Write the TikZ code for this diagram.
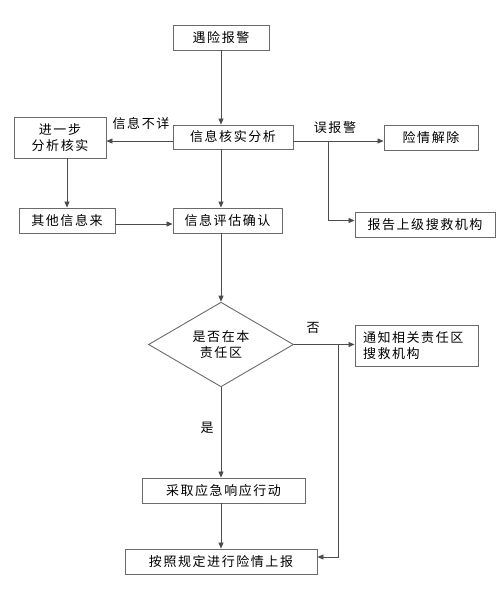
\documentclass[tikz,border=0pt]{standalone}
\usepackage{fontspec}
\newfontfamily\cjk{Noto Sans CJK SC}[LetterSpace=12]
\usetikzlibrary{arrows.meta,shapes.geometric}
\definecolor{boxBd}{HTML}{6A6A6A}
\definecolor{lineCol}{HTML}{4C4C4C}
\newcommand{\zh}{\cjk\fontsize{13}{16}\selectfont}
\tikzset{
  stage/.style={
    rectangle, draw=boxBd, line width=0.9pt,
    minimum height=25pt, inner sep=0pt,
    align=center, font=\zh
  },
  decide/.style={
    diamond, draw=boxBd, line width=0.9pt,
    minimum width=145pt, minimum height=83pt, inner sep=0pt,
    align=center, font=\zh
  },
  flow/.style={-{Triangle[length=6pt,width=5pt]}, line width=0.8pt, draw=lineCol},
  lbl/.style={font=\zh, inner sep=0pt}
}

\begin{document}
\begin{tikzpicture}[x=1pt,y=-1pt]
  \useasboundingbox (0,0) rectangle (500,608);

  % boxes -- upper part
  \node[stage, minimum width=96pt]  (alarm)   at (221,37.5)  {遇险报警};
  \node[stage, minimum width=120pt, minimum height=24pt] (verify) at (233,137) {信息核实分析};
  \node[stage, minimum width=92pt, minimum height=41pt]  (further) at (60,137.5) {进一步\\分析核实};
  \node[stage, minimum width=94pt]  (clear)   at (431,137.5) {险情解除};
  \node[stage, minimum width=96pt]  (other)   at (67,220.5)  {其他信息来};
  \node[stage, minimum width=109pt] (assess)  at (227.5,220.5) {信息评估确认};
  \node[stage, minimum width=140pt] (report)  at (425,224.5) {报告上级搜救机构};

  % decision and lower part
  \node[decide] (zone) at (221,344.5) {是否在本\\责任区};
  \node[stage, minimum height=41pt, text width=107pt, inner xsep=8pt, align=left]
    (notify) at (416.5,345.5) {通知相关责任区\\搜救机构};
  \node[stage, minimum width=163pt] (act)   at (223.5,490.5) {采取应急响应行动};
  \node[stage, minimum width=192pt] (final) at (221,561.5) {按照规定进行险情上报};

  % branch labels
  \node[lbl] (lblUnclear) at (141,124) {信息不详};
  \node[lbl] (lblFalse)   at (335,128) {误报警};
  \node[lbl] (lblNo)      at (313,328) {否};
  \node[lbl] (lblYes)     at (207,428) {是};

  % split points
  \coordinate (split)  at (328,141);
  \coordinate (split2) at (338,344.5);

  % connectors
  \draw[flow] (alarm.south) -- (alarm.south |- verify.north);
  \draw[flow] ([yshift=-4pt]verify.west) -- ([yshift=-4pt]verify.west -| further.east);
  \draw[flow] ([yshift=-4pt]verify.east) -- ([yshift=-4pt]verify.east -| clear.west);
  \draw[flow] (split) |- ([yshift=4pt]report.west);
  \draw[flow] (alarm.south |- verify.south) -- (alarm.south |- assess.north);
  \draw[flow] (other.north |- further.south) -- (other.north);
  \draw[flow] ([yshift=-3.5pt]other.east) -- ([yshift=-3.5pt]other.east -| assess.west);
  \draw[flow] (alarm.south |- assess.south) -- (zone.north);
  \draw[flow] (zone.east) -- (zone.east -| notify.west);
  \draw[flow] (split2) |- ([yshift=4.5pt]final.east);
  \draw[flow] (zone.south) -- (zone.south |- act.north);
  \draw[flow] (final.north |- act.south) -- (final.north);
\end{tikzpicture}
\end{document}
